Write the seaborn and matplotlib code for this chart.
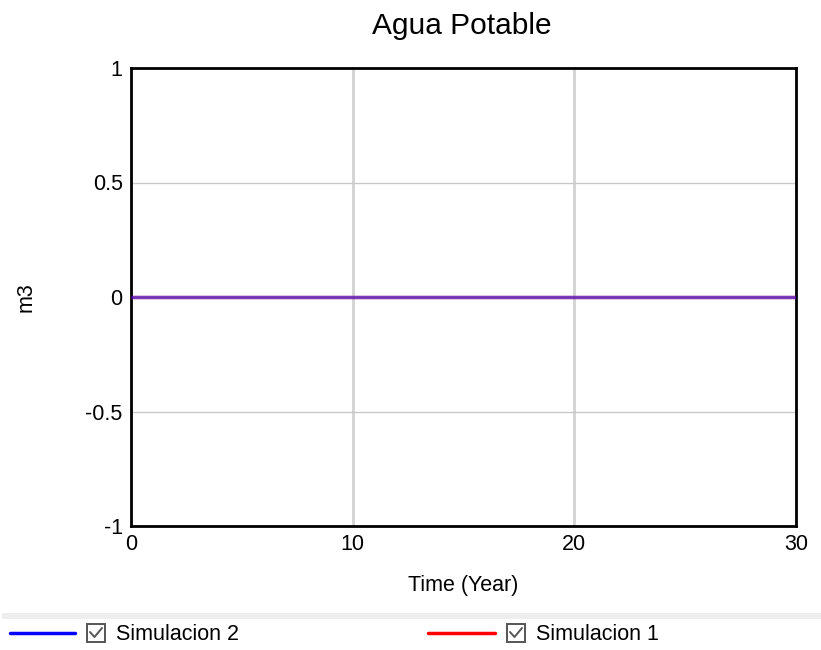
import numpy as np
import pandas as pd
import matplotlib
matplotlib.use("Agg")
import matplotlib.pyplot as plt
from matplotlib.lines import Line2D
from matplotlib.patches import Rectangle
import seaborn as sns

# Data
time = [0, 30]
sim2_values = [0, 0]
sim1_values = [0, 0]
series_names = ["Simulacion 2", "Simulacion 1"]
series_colors = ["#0000ff", "#ff0000"]
x_ticks = [0, 10, 20, 30]
y_ticks = [-1, -0.5, 0, 0.5, 1]
y_tick_labels = ["-1", "-0.5", "0", "0.5", "1"]

sns.set_style("white")
plt.rcParams['font.family'] = ['Liberation Sans', 'DejaVu Sans']
plt.rcParams['text.color'] = 'black'
plt.rcParams['axes.labelcolor'] = 'black'

W, H = 821, 650
def fx(px):
    return px / W
def fy(py):
    return 1 - py / H

df = pd.concat([
    pd.DataFrame({"Time": time, "value": sim1_values, "series": series_names[1]}),
    pd.DataFrame({"Time": time, "value": sim2_values, "series": series_names[0]}),
])

fig = plt.figure(figsize=(8.21, 6.5), dpi=100)
ax = fig.add_axes([fx(131), fy(526), (796-131)/W, (526-68)/H])

sns.lineplot(data=df, x="Time", y="value", hue="series",
             hue_order=[series_names[1], series_names[0]],
             palette={series_names[0]: series_colors[0], series_names[1]: series_colors[1]},
             alpha=0.5, linewidth=2.5, ax=ax, legend=False, zorder=3)

ax.set_xlim(0, 30)
ax.set_ylim(-1, 1)
ax.set_xticks(x_ticks)
ax.set_xticklabels([str(t) for t in x_ticks])
ax.set_yticks(y_ticks)
ax.set_yticklabels(y_tick_labels)
ax.tick_params(axis='both', length=0, labelsize=15.5, colors='black')
ax.tick_params(axis='x', pad=6)
ax.tick_params(axis='y', pad=6)
ax.grid(True, axis='x', color='#d3d3d3', linewidth=2)
ax.grid(True, axis='y', color='#c8c8c8', linewidth=1)
for s in ax.spines.values():
    s.set_visible(True)
    s.set_color('black')
    s.set_linewidth(2)

ax.set_xlabel("Time (Year)", fontsize=15.5, labelpad=14, color='black')
ax.set_ylabel("m3", fontsize=15.5, color='black')
ax.yaxis.set_label_coords((37-131)/665, 0.5)
fig.text(fx(462), fy(26), "Agua Potable", ha='center', va='center', fontsize=21.5, color='black')

# Separator band
fig.add_artist(Rectangle((fx(2), fy(619)), 819/W, 6/H, transform=fig.transFigure,
                         facecolor='#eeeeee', edgecolor='none'))

# Custom legend
leg_items = [(10, 75, 87, 116, series_names[0], series_colors[0]),
             (428, 495, 507, 536, series_names[1], series_colors[1])]
ly = 633
bs = 18
for x0, x1, xb, xt, name, col in leg_items:
    fig.add_artist(Line2D([fx(x0), fx(x1)], [fy(ly), fy(ly)], transform=fig.transFigure,
                          color=col, linewidth=2.5))
    fig.add_artist(Rectangle((fx(xb), fy(ly + bs / 2)), bs/W, bs/H, transform=fig.transFigure,
                             facecolor='white', edgecolor='#555555', linewidth=1.4))
    fig.add_artist(Line2D([fx(xb + 3), fx(xb + 7.5), fx(xb + 15)],
                          [fy(ly - 1), fy(ly + 4), fy(ly - 5)], transform=fig.transFigure,
                          color='#555555', linewidth=1.4))
    fig.text(fx(xt), fy(ly + 1), name, ha='left', va='center', fontsize=15.5, color='black')

fig.savefig("out.png", dpi=100)
